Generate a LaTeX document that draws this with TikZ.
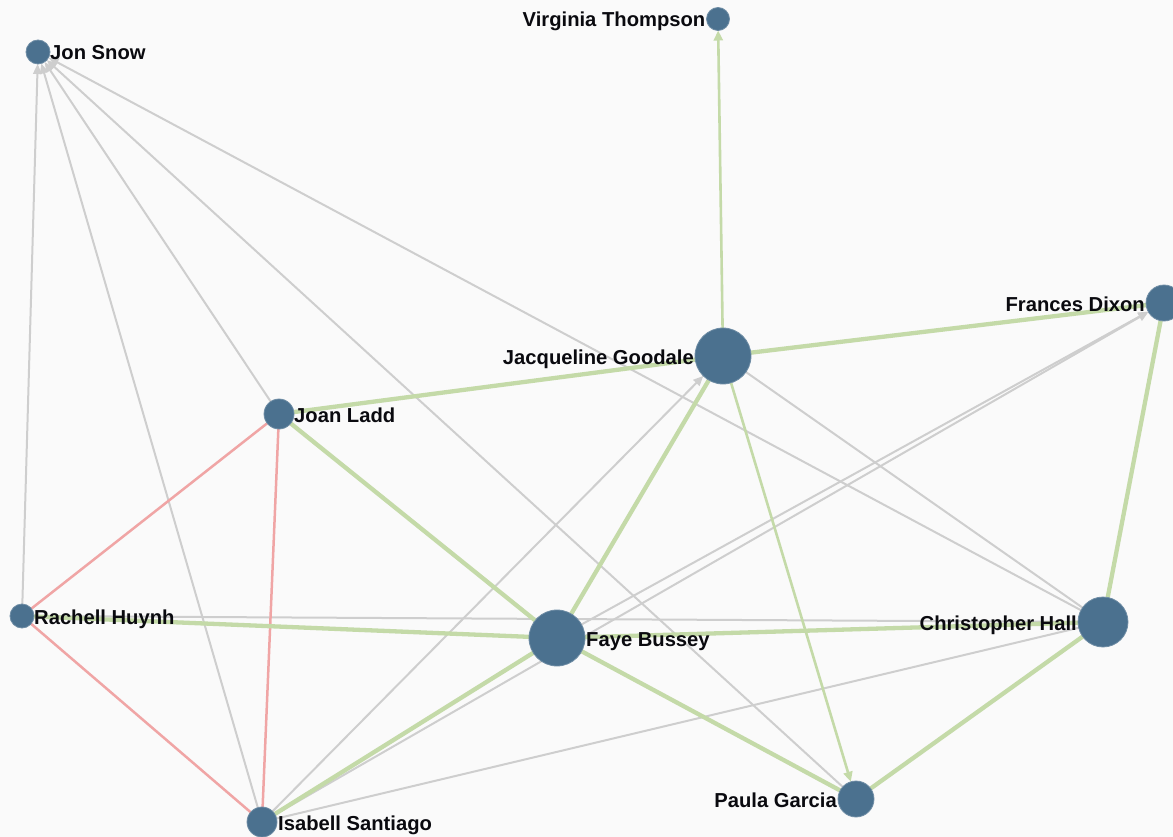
\documentclass[tikz,border=0pt]{standalone}
\usepackage{fontspec}
\setmainfont{Liberation Sans}
\usetikzlibrary{arrows.meta,calc}
\definecolor{bgc}{RGB}{250,250,250}
\definecolor{nodec}{RGB}{75,113,143}
\definecolor{grn}{RGB}{196,218,168}
\definecolor{gry}{RGB}{206,206,206}
\definecolor{redc}{RGB}{240,165,165}
\definecolor{txt}{RGB}{10,10,15}
\pgfdeclarelayer{bglayer}
\pgfdeclarelayer{edgelayer}
\pgfsetlayers{bglayer,edgelayer,main}
\begin{document}
\begin{tikzpicture}[x=1pt,y=-1pt,
  person/.style={circle,fill=nodec,draw=nodec!80!white,line width=0.8pt,inner sep=0pt,outer sep=0pt,minimum size=#1},
  lblr/.style={anchor=base west,font=\bfseries\fontsize{20.2}{21}\selectfont,inner sep=0pt,text=txt},
  lbll/.style={anchor=base east,font=\bfseries\fontsize{20.2}{21}\selectfont,inner sep=0pt,text=txt},
  grayarrow/.style={draw=gry,line width=2pt,-{Triangle[length=10pt,width=8.5pt]}},
  grayline/.style={draw=gry,line width=2pt},
  strong/.style={draw=grn,line width=4.3pt},
  greenarrow/.style={draw=grn,line width=2.6pt,-{Triangle[length=10pt,width=9pt]}},
  foe/.style={draw=redc,line width=2.5pt}]
\begin{pgfonlayer}{bglayer}
  \fill[bgc] (0,0) rectangle (1173,837);
\end{pgfonlayer}
\useasboundingbox (0,0) rectangle (1173,837);
\clip (0,0) rectangle (1173,837);

% nodes
\node[person=23pt] (vt) at (718,19) {};
\node[person=24pt] (js) at (38,52) {};
\node[person=36pt] (fd) at (1164,303) {};
\node[person=56pt] (jg) at (723,356) {};
\node[person=30pt] (jl) at (279,414) {};
\node[person=24pt] (rh) at (22,616) {};
\node[person=56pt] (fb) at (557,638) {};
\node[person=50pt] (ch) at (1103,622) {};
\node[person=36pt] (pg) at (856,799) {};
\node[person=30pt] (is) at (262,822) {};

% labels
\node[lbll] (vtl) at ($(vt.west)+(-1,8)$) {Virginia Thompson};
\node[lblr] (jsl) at ($(js.east)+(0,8)$) {Jon Snow};
\node[lbll] (fdl) at ($(fd.west)+(-1,8)$) {Frances Dixon};
\node[lbll] (jgl) at ($(jg.west)+(-1,8)$) {Jacqueline Goodale};
\node[lblr] (jll) at ($(jl.east)+(0,8)$) {Joan Ladd};
\node[lblr] (rhl) at ($(rh.east)+(0,8)$) {Rachell Huynh};
\node[lblr] (fbl) at ($(fb.east)+(1,8)$) {Faye Bussey};
\node[lbll] (chl) at ($(ch.west)+(-1,8)$) {Christopher Hall};
\node[lbll] (pgl) at ($(pg.west)+(-1,8)$) {Paula Garcia};
\node[lblr] (isl) at ($(is.east)+(1,8)$) {Isabell Santiago};

\begin{pgfonlayer}{edgelayer}
  % gray links
  \draw[grayline] (jg) -- (ch);
  \draw[grayline] (rh) -- (ch);
  \draw[grayline] (is) -- (ch);
  \draw[grayarrow] (rh) -- (js);
  \draw[grayarrow] (is) -- (js);
  \draw[grayarrow] (jl) -- (js);
  \draw[grayarrow] (pg) -- (js);
  \draw[grayarrow] (ch) -- (js);
  \draw[grayarrow] (is) -- (jg);
  \draw[grayarrow] (fb) -- (fd);
  \draw[grayarrow] (is) -- (fd);
  % red links
  \draw[foe] (jl) -- (rh);
  \draw[foe] (jl) -- (is);
  \draw[foe] (rh) -- (is);
  % green links
  \draw[strong] (jg) -- (fd);
  \draw[strong] (jg) -- (jl);
  \draw[strong] (jg) -- (fb);
  \draw[strong] (jl) -- (fb);
  \draw[strong] (rh) -- (fb);
  \draw[strong] (fb) -- (ch);
  \draw[strong] (fb) -- (pg);
  \draw[strong] (fb) -- (is);
  \draw[strong] (ch) -- (fd);
  \draw[strong] (ch) -- (pg);
  \draw[greenarrow] (jg) -- (vt);
  \draw[greenarrow] (jg) -- (pg);
\end{pgfonlayer}
\end{tikzpicture}
\end{document}
